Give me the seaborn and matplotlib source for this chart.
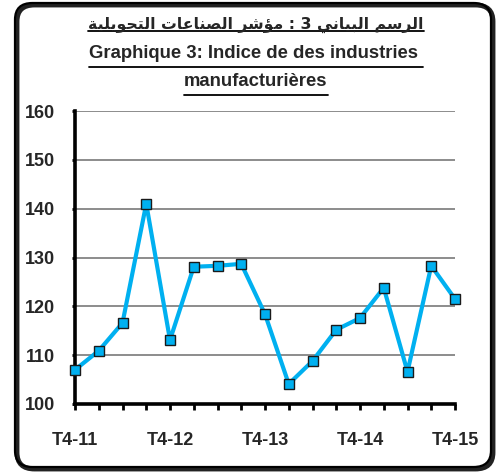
import matplotlib
matplotlib.use("Agg")
import matplotlib.pyplot as plt
import seaborn as sns
import pandas as pd
from matplotlib.patches import FancyBboxPatch
from matplotlib.lines import Line2D

# ---- data ----
quarters = ["T4-11", "T1-12", "T2-12", "T3-12", "T4-12", "T1-13", "T2-13", "T3-13",
            "T4-13", "T1-14", "T2-14", "T3-14", "T4-14", "T1-15", "T2-15", "T3-15", "T4-15"]
values = [107.0, 110.9, 116.6, 141.0, 113.1, 128.1, 128.3, 128.7,
          118.4, 104.1, 108.8, 115.2, 117.6, 123.8, 106.6, 128.3, 121.5]
shown_labels = ["T4-11", "T4-12", "T4-13", "T4-14", "T4-15"]
yticks = [100, 110, 120, 130, 140, 150, 160]
title_ar = "الرسم البياني 3 : مؤشر الصناعات التحويلية"
title_fr1 = "Graphique 3: Indice de des industries "
title_fr2 = "manufacturières"

# ---- minimal Arabic shaping (presentation forms) ----
FORMS = {
    'ا': ('\uFE8D', '\uFE8E', None, None),
    'ب': ('\uFE8F', '\uFE90', '\uFE91', '\uFE92'),
    'ت': ('\uFE95', '\uFE96', '\uFE97', '\uFE98'),
    'ة': ('\uFE93', '\uFE94', None, None),
    'ح': ('\uFEA1', '\uFEA2', '\uFEA3', '\uFEA4'),
    'ر': ('\uFEAD', '\uFEAE', None, None),
    'س': ('\uFEB1', '\uFEB2', '\uFEB3', '\uFEB4'),
    'ش': ('\uFEB5', '\uFEB6', '\uFEB7', '\uFEB8'),
    'ص': ('\uFEB9', '\uFEBA', '\uFEBB', '\uFEBC'),
    'ع': ('\uFEC9', '\uFECA', '\uFECB', '\uFECC'),
    'ل': ('\uFEDD', '\uFEDE', '\uFEDF', '\uFEE0'),
    'م': ('\uFEE1', '\uFEE2', '\uFEE3', '\uFEE4'),
    'ن': ('\uFEE5', '\uFEE6', '\uFEE7', '\uFEE8'),
    'و': ('\uFEED', '\uFEEE', None, None),
    'ؤ': ('\uFE85', '\uFE86', None, None),
    'ي': ('\uFEF1', '\uFEF2', '\uFEF3', '\uFEF4'),
}


def shape(text):
    out = []
    for i, c in enumerate(text):
        if c not in FORMS:
            out.append(c)
            continue
        prev = text[i - 1] if i > 0 else None
        nxt = text[i + 1] if i + 1 < len(text) else None
        jp = prev in FORMS and FORMS[prev][2] is not None
        jn = nxt in FORMS and FORMS[c][2] is not None
        iso, fin, ini, med = FORMS[c]
        if jp and jn:
            out.append(med)
        elif jp:
            out.append(fin)
        elif jn:
            out.append(ini)
        else:
            out.append(iso)
    return "".join(reversed(out))


sns.set_theme(style="white")
plt.rcParams['font.family'] = ['Liberation Sans', 'DejaVu Sans']
fs_tick = 13
fs_title = 13.3

W, H = 499, 473
fig = plt.figure(figsize=(W / 100, H / 100), dpi=100)
ax = fig.add_axes([75 / W, 1 - 404 / H, (455 - 75) / W, (404 - 111) / H])

df = pd.DataFrame({"x": range(len(quarters)), "v": values})
sns.lineplot(data=df, x="x", y="v", ax=ax, color="#00B0F0", linewidth=3,
             marker="s", markersize=7.5, markerfacecolor="#00B0F0",
             markeredgecolor="#1a1a1a", markeredgewidth=1.0, zorder=5, clip_on=False)

ax.set_xlim(0, len(quarters) - 1)
ax.set_ylim(100, 160)
ax.set_yticks(yticks)
ax.set_yticklabels([str(t) for t in yticks], fontweight="bold", fontsize=fs_tick)
ax.set_xticks(range(len(quarters)))
ax.set_xticklabels([q if q in shown_labels else "" for q in quarters],
                   fontweight="bold", fontsize=fs_tick)
ax.set_xlabel("")
ax.set_ylabel("")
for y in yticks[1:]:
    ax.axhline(y, color="#8c8c8c", linewidth=1.4, zorder=1)
for s in ["top", "right"]:
    ax.spines[s].set_visible(False)
for s in ["left", "bottom"]:
    ax.spines[s].set_color("black")
    ax.spines[s].set_linewidth(2.6)
ax.tick_params(axis="x", direction="out", length=4, width=2, color="black", pad=16, bottom=True)
ax.tick_params(axis="y", direction="out", length=2.5, width=2, color="black", pad=12, left=True)

# frame with shadow
shadow = FancyBboxPatch((17 / W, 4 / H), 476 / W, 464 / H,
                        boxstyle="round,pad=0,rounding_size=0.035",
                        transform=fig.transFigure, facecolor="none",
                        edgecolor="#222222", linewidth=3.5, zorder=0)
frame = FancyBboxPatch((15 / W, 6 / H), 476 / W, 464 / H,
                       boxstyle="round,pad=0,rounding_size=0.035",
                       transform=fig.transFigure, facecolor="none",
                       edgecolor="black", linewidth=1.6, zorder=1)
fig.patches.extend([shadow, frame])

cx = 256 / W
t1 = fig.text(cx, 1 - 29 / H, shape(title_ar), ha="center", va="baseline",
              fontsize=11.3, fontweight="bold", family=["DejaVu Sans"], zorder=3)
t2 = fig.text(cx, 1 - 54 / H, title_fr1, ha="center", va="center",
              fontsize=fs_title, fontweight="bold")
t3 = fig.text(cx, 1 - 81 / H, title_fr2, ha="center", va="center",
              fontsize=fs_title, fontweight="bold")

fig.canvas.draw()
r = fig.canvas.get_renderer()
for t, uy in [(t1, 31), (t2, 67), (t3, 95)]:
    bb = t.get_window_extent(r)
    y = 1 - uy / H
    fig.add_artist(Line2D([bb.x0 / W, bb.x1 / W], [y, y], transform=fig.transFigure,
                          color="black", linewidth=1.3))

fig.savefig("out.png", dpi=100)
